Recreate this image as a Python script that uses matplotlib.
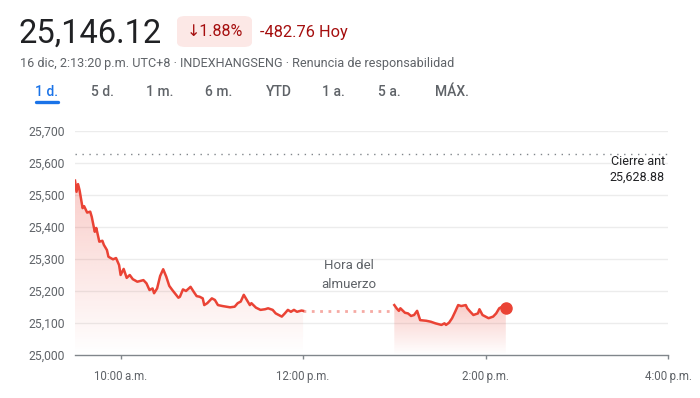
import numpy as np
import matplotlib
matplotlib.use("Agg")
import matplotlib.pyplot as plt
import matplotlib.colors as mcolors
from matplotlib.patches import FancyBboxPatch

plt.rcParams['font.family'] = ['Roboto', 'DejaVu Sans']

# ---- data (minutes since 9:30 a.m.) ----
am_minutes = [0, 1, 2, 3, 5, 6, 8, 10, 11, 13, 14, 16, 18, 19, 21, 22, 25, 27, 29, 30,
              32, 34, 36, 38, 41, 45, 47, 49, 51, 52, 54, 56, 58, 60, 62, 64, 68, 69, 71,
              73, 76, 78, 80, 82, 84, 85, 87, 90, 92, 94, 97, 102, 105, 107, 109, 111,
              113, 115, 116, 119, 122, 125, 127, 130, 132, 136, 138, 140, 142, 144, 146,
              149, 150]
am_values = [25545, 25510, 25534, 25515, 25459, 25465, 25445, 25448, 25432, 25385, 25397,
             25354, 25357, 25344, 25328, 25307, 25299, 25303, 25281, 25250, 25269, 25241,
             25250, 25237, 25229, 25234, 25224, 25203, 25208, 25193, 25208, 25247, 25268,
             25245, 25216, 25203, 25179, 25182, 25205, 25200, 25213, 25198, 25184, 25182,
             25177, 25156, 25162, 25177, 25172, 25156, 25153, 25149, 25151, 25162, 25167,
             25188, 25172, 25156, 25162, 25148, 25141, 25143, 25146, 25141, 25130, 25120,
             25130, 25141, 25135, 25141, 25135, 25139, 25138]
pm_minutes = [210, 211.5, 213, 214, 217, 219, 221, 223, 225, 227, 231, 234, 237, 241, 243,
              244, 246, 248, 250, 252, 254, 257, 258, 260, 262, 265, 266, 268, 270, 272,
              275, 277, 279, 281, 283.33]
pm_values = [25156, 25146, 25138, 25146, 25132, 25130, 25122, 25125, 25138, 25109, 25107,
             25104, 25099, 25094, 25099, 25094, 25101, 25115, 25135, 25156, 25153, 25156,
             25146, 25135, 25125, 25130, 25143, 25125, 25120, 25115, 25120, 25130, 25146,
             25151, 25146.12]
prev_close = 25628.88
y_ticks = [25000, 25100, 25200, 25300, 25400, 25500, 25600, 25700]
x_tick_pos = [30, 150, 270, 390]
x_tick_labels = ["10:00\u2009a.m.", "12:00\u2009p.m.", "2:00\u2009p.m.", "4:00\u2009p.m."]
tabs = ["1 d.", "5 d.", "1 m.", "6 m.", "YTD", "1 a.", "5 a.", "MÁX."]

RED = "#ea4335"
GRAY = "#5f6368"
W, H = 700, 398

fig = plt.figure(figsize=(W / 100, H / 100), dpi=100)

def fx(x):
    return x / W

def fy(y):
    return 1 - y / H

ax = fig.add_axes([fx(75), fy(355), fx(668) - fx(75), fy(131) - fy(355)])
ax.set_facecolor("white")


def gradient_fill(ax, x, y, color, alpha_top=0.27, base=25000):
    poly = ax.fill_between(x, y, base, facecolor="none", edgecolor="none", lw=0)
    path = poly.get_paths()[0]
    ymax = max(y)
    grad = np.zeros((200, 1, 4))
    grad[:, :, :3] = mcolors.to_rgb(color)
    grad[:, 0, 3] = np.linspace(alpha_top, 0.0, 200)
    im = ax.imshow(grad, aspect="auto", extent=[min(x), max(x), base, ymax],
                   origin="upper", zorder=1, interpolation="bilinear")
    im.set_clip_path(path, transform=ax.transData)


# grid
for v in y_ticks[1:]:
    ax.axhline(v, color="#ececec", lw=1, zorder=0)

gradient_fill(ax, am_minutes, am_values, RED)
gradient_fill(ax, pm_minutes, pm_values, RED)

ax.plot(am_minutes, am_values, color=RED, lw=1.8, zorder=3, solid_joinstyle="round")
ax.plot(pm_minutes, pm_values, color=RED, lw=1.8, zorder=3, solid_joinstyle="round")
ax.plot([am_minutes[-1], pm_minutes[0]], [am_values[-1], am_values[-1]], color=RED,
        alpha=0.45, lw=2, dashes=(1, 2), zorder=2)
ax.plot([pm_minutes[-1]], [pm_values[-1]], "o", color=RED, ms=8, zorder=4)

# previous close
ax.plot([0, 390], [prev_close, prev_close], color="#80868b", lw=1, dashes=(1, 4), zorder=2)
ax.text(388, 25580, "Cierre ant\n25,628.88", ha="right", va="center", fontsize=9,
        color="#202124", linespacing=1.25)

ax.text(150 + 30, 25250, "Hora del\nalmuerzo", ha="center", va="center", fontsize=9.5,
        color=GRAY, linespacing=1.55)

ax.set_xlim(0, 390)
ax.set_ylim(25000, 25700)
ax.set_yticks(y_ticks)
ax.set_yticklabels([f"{v:,}" for v in y_ticks])
ax.set_xticks(x_tick_pos)
ax.set_xticklabels(x_tick_labels)
for s in ["top", "right", "left"]:
    ax.spines[s].set_visible(False)
ax.spines["bottom"].set_color("#80868b")
ax.spines["bottom"].set_linewidth(1)
ax.tick_params(axis="y", length=0, pad=7, labelsize=8.7, labelcolor=GRAY)
ax.tick_params(axis="x", length=3, width=1, color="#80868b", pad=8, labelsize=8.3,
               labelcolor=GRAY, direction="out")

# ---- header ----
fig.text(fx(19), fy(34), "25,146.12", fontsize=23.5, color="#202124", ha="left", va="center")
badge = FancyBboxPatch((fx(177), fy(47)), fx(252) - fx(177), fy(16) - fy(47),
                       boxstyle="round,pad=0,rounding_size=0.012", transform=fig.transFigure,
                       facecolor="#fce8e6", edgecolor="none")
fig.patches.append(badge)
fig.text(fx(215), fy(32), "↓1.88%", fontsize=11.5, color="#a50e0e", ha="center", va="center")
fig.text(fx(260), fy(32), "-482.76 Hoy", fontsize=11.8, color="#a50e0e", ha="left", va="center")
fig.text(fx(20), fy(63),
         "16 dic, 2:13:20\u2009p.m. UTC+8 · INDEXHANGSENG · Renuncia de responsabilidad",
         fontsize=9.1, color=GRAY, ha="left", va="center")

tab_centers = [46.5, 102.3, 159.2, 218.8, 279, 333.8, 389.4, 451.5]
for i, (t, cx) in enumerate(zip(tabs, tab_centers)):
    fig.text(fx(cx), fy(92), t, fontsize=10, color="#1a73e8" if i == 0 else GRAY,
             ha="center", va="center", fontweight="medium")
fig.add_artist(plt.Line2D([fx(36), fx(58)], [fy(101.5), fy(101.5)], color="#1a73e8",
                          lw=2.4, solid_capstyle="round", transform=fig.transFigure))

fig.savefig("out.png", dpi=100, facecolor="white")
